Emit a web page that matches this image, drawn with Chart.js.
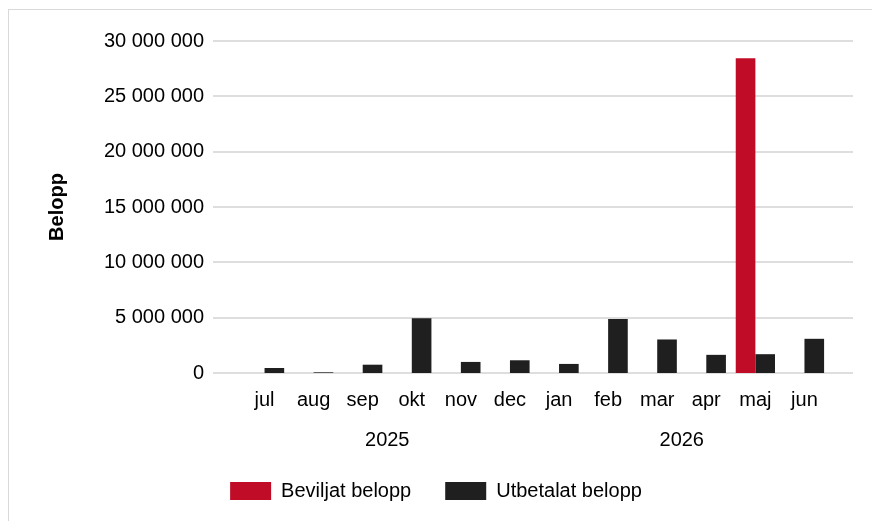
<!DOCTYPE html>
<html>
<head>
<meta charset="utf-8">
<script src="https://cdn.jsdelivr.net/npm/chart.js@4.4.1/dist/chart.umd.min.js"></script>
<style>
  html, body { margin: 0; padding: 0; background: #fff; }
  #frame { position: absolute; left: 8px; top: 9px; width: 900px; height: 600px; border: 1px solid #d9d9d9; }
  #wrap { position: absolute; left: 0; top: 0; width: 872px; height: 521px; }
</style>
</head>
<body>
<div id="frame"></div>
<div id="wrap"><canvas id="chart" width="872" height="521"></canvas></div>
<script>
// months on the first axis row, years on the second
var months = ['jul', 'aug', 'sep', 'okt', 'nov', 'dec', 'jan', 'feb', 'mar', 'apr', 'maj', 'jun'];
var years = ['2025', '2026'];
// amounts in SEK
var beviljat = [0, 0, 0, 0, 0, 0, 0, 0, 0, 0, 28430000, 0];
var utbetalat = [450000, 60000, 750000, 4940000, 1000000, 1150000, 820000, 4880000, 3030000, 1640000, 1700000, 3090000];
var yTicks = [0, 5000000, 10000000, 15000000, 20000000, 25000000, 30000000];

var FONT = '"Liberation Sans", Arial, sans-serif';

function fmt(v) {
  return String(v).replace(/\B(?=(\d{3})+(?!\d))/g, ' ');
}

// gridlines that run a bit past the bars on both sides
var gridExtend = {
  id: 'gridExtend',
  beforeDatasetsDraw: function(chart) {
    var ctx = chart.ctx, area = chart.chartArea, y = chart.scales.y;
    ctx.save();
    ctx.strokeStyle = '#dedede';
    ctx.lineWidth = 2;
    y.ticks.forEach(function(t) {
      var py = Math.round(y.getPixelForValue(t.value));
      ctx.beginPath();
      ctx.moveTo(area.left - 27, py);
      ctx.lineTo(area.right + 24, py);
      ctx.stroke();
    });
    ctx.restore();
  }
};

var ctx = document.getElementById('chart');
var myChart = new Chart(ctx, {
  type: 'bar',
  data: {
    labels: months,
    datasets: [{
      label: 'Beviljat belopp',
      data: beviljat,
      backgroundColor: '#c00c27',
      xAxisID: 'x'
    }, {
      label: 'Utbetalat belopp',
      data: utbetalat,
      backgroundColor: '#1f1f1f',
      xAxisID: 'x'
    }]
  },
  options: {
    responsive: false,
    animation: false,
    devicePixelRatio: 1,
    categoryPercentage: 0.8,
    barPercentage: 1.0,
    layout: { padding: { top: 41, left: 0, right: 0, bottom: 10 } },
    scales: {
      x: {
        position: 'bottom',
        grid: { display: false, drawTicks: false },
        border: { display: false },
        ticks: { color: '#000', font: { family: FONT, size: 20 }, padding: 15, maxRotation: 0, autoSkip: false },
        afterFit: function(s) { s.height = 45; }
      },
      x2: {
        axis: 'x',
        type: 'category',
        labels: years,
        offset: true,
        position: 'bottom',
        grid: { display: false, drawTicks: false },
        border: { display: false },
        ticks: { color: '#000', font: { family: FONT, size: 20 }, padding: 10, maxRotation: 0 },
        afterFit: function(s) { s.height = 29; }
      },
      y: {
        min: 0,
        max: 30000000,
        afterBuildTicks: function(s) { s.ticks = yTicks.map(function(v) { return { value: v }; }); },
        grid: { display: false, drawTicks: false },
        border: { display: false },
        ticks: { color: '#000', font: { family: FONT, size: 20 }, padding: 36, callback: function(v) { return fmt(v); } },
        title: { display: true, text: 'Belopp', color: '#000', font: { family: FONT, size: 20, weight: 'bold' }, padding: { top: 45, bottom: 0 } },
        afterFit: function(s) {
          s.width = 240;
          // the tick padding is meant for the x gap only
          s.paddingTop = 12;
          s.paddingBottom = 12;
        }
      },
      yr: {
        position: 'right',
        display: true,
        grid: { display: false, drawTicks: false },
        border: { display: false },
        ticks: { display: false },
        afterFit: function(s) { s.width = 43; }
      }
    },
    plugins: {
      legend: {
        position: 'bottom',
        maxHeight: 64,
        labels: { color: '#000', font: { family: FONT, size: 20 }, boxWidth: 41, boxHeight: 18, padding: 34 }
      },
      tooltip: { enabled: false }
    }
  },
  plugins: [gridExtend]
});
</script>
</body>
</html>
